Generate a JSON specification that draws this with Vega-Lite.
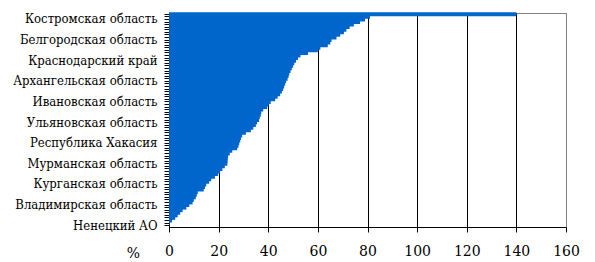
{
  "$schema": "https://vega.github.io/schema/vega-lite/v6.json",
  "width": 397,
  "height": 214,
  "autosize": "none",
  "padding": {"left": 169, "top": 13, "right": 29, "bottom": 35},
  "background": "white",
  "config": {"view": {"stroke": "#808080", "strokeWidth": 1}, "font": "DejaVu Serif"},
  "data": {"values": [
    {"region": "г. Москва", "value": 140},
    {"region": "Тюменская область", "value": 81},
    {"region": "Костромская область", "value": 79},
    {"region": "Ямало-Ненецкий АО", "value": 77},
    {"region": "Ханты-Мансийский АО", "value": 74.5},
    {"region": "г. Санкт-Петербург", "value": 72.8},
    {"region": "Московская область", "value": 71.5},
    {"region": "Республика Татарстан", "value": 70.5},
    {"region": "Самарская область", "value": 69},
    {"region": "Свердловская область", "value": 67.5},
    {"region": "Белгородская область", "value": 65.5},
    {"region": "Липецкая область", "value": 65},
    {"region": "Ленинградская область", "value": 64},
    {"region": "Сахалинская область", "value": 61},
    {"region": "Республика Коми", "value": 60},
    {"region": "Пермский край", "value": 56},
    {"region": "Красноярский край", "value": 53},
    {"region": "Челябинская область", "value": 52},
    {"region": "Краснодарский край", "value": 51.2},
    {"region": "Нижегородская область", "value": 50.5},
    {"region": "Вологодская область", "value": 50},
    {"region": "Республика Башкортостан", "value": 49.5},
    {"region": "Оренбургская область", "value": 49},
    {"region": "Ярославская область", "value": 48.5},
    {"region": "Калужская область", "value": 48.2},
    {"region": "Томская область", "value": 47.8},
    {"region": "Архангельская область", "value": 47.2},
    {"region": "Магаданская область", "value": 46.8},
    {"region": "Воронежская область", "value": 46.4},
    {"region": "Тульская область", "value": 46},
    {"region": "Камчатский край", "value": 45.5},
    {"region": "Ростовская область", "value": 44.8},
    {"region": "Калининградская область", "value": 43.8},
    {"region": "Новосибирская область", "value": 42.8},
    {"region": "Ивановская область", "value": 41},
    {"region": "Иркутская область", "value": 40.2},
    {"region": "Кемеровская область", "value": 39.6},
    {"region": "Хабаровский край", "value": 38},
    {"region": "Рязанская область", "value": 37.2},
    {"region": "Удмуртская Республика", "value": 37},
    {"region": "Омская область", "value": 36.6},
    {"region": "Смоленская область", "value": 36.3},
    {"region": "Ульяновская область", "value": 35.5},
    {"region": "Волгоградская область", "value": 35},
    {"region": "Приморский край", "value": 34},
    {"region": "Тверская область", "value": 33},
    {"region": "Новгородская область", "value": 31},
    {"region": "Саратовская область", "value": 29.5},
    {"region": "Республика Карелия", "value": 29},
    {"region": "Курская область", "value": 28.7},
    {"region": "Республика Хакасия", "value": 28.3},
    {"region": "Республика Саха (Якутия)", "value": 28},
    {"region": "Чукотский АО", "value": 27.5},
    {"region": "Астраханская область", "value": 25.5},
    {"region": "Ставропольский край", "value": 24.5},
    {"region": "Брянская область", "value": 23.8},
    {"region": "Орловская область", "value": 23.7},
    {"region": "Амурская область", "value": 23.6},
    {"region": "Мурманская область", "value": 23.5},
    {"region": "Псковская область", "value": 22.5},
    {"region": "Пензенская область", "value": 21.5},
    {"region": "Тамбовская область", "value": 20.6},
    {"region": "Кировская область", "value": 19.8},
    {"region": "Республика Мордовия", "value": 18.5},
    {"region": "Алтайский край", "value": 17},
    {"region": "Чувашская Республика", "value": 16.2},
    {"region": "Курганская область", "value": 15},
    {"region": "Забайкальский край", "value": 14.5},
    {"region": "Республика Марий Эл", "value": 14},
    {"region": "Республика Бурятия", "value": 11.6},
    {"region": "Республика Адыгея", "value": 11.2},
    {"region": "Еврейская АО", "value": 10.8},
    {"region": "Республика Северная Осетия", "value": 10},
    {"region": "Карачаево-Черкесская Республика", "value": 9.5},
    {"region": "Владимирская область", "value": 8.2},
    {"region": "Кабардино-Балкарская Республика", "value": 7},
    {"region": "Республика Алтай", "value": 5.5},
    {"region": "Республика Калмыкия", "value": 4.5},
    {"region": "Республика Тыва", "value": 3.5},
    {"region": "Республика Дагестан", "value": 2.5},
    {"region": "Чеченская Республика", "value": 1.2},
    {"region": "Республика Ингушетия", "value": 0.3},
    {"region": "Ненецкий АО", "value": 0.1}
  ]},
  "mark": {"type": "bar", "fill": "#0066CC", "height": {"band": 1.5}},
  "encoding": {
    "y": {
      "field": "region",
      "type": "nominal",
      "sort": null,
      "scale": {"paddingInner": 0, "paddingOuter": 0},
      "axis": {
        "title": null,
        "labelExpr": "indexof(['Костромская область','Белгородская область','Краснодарский край','Архангельская область','Ивановская область','Ульяновская область','Республика Хакасия','Мурманская область','Курганская область','Владимирская область','Ненецкий АО'], datum.value) >= 0 ? datum.value : ''",
        "labelFont": "DejaVu Serif Condensed",
        "labelFontSize": 13,
        "labelColor": "#000",
        "labelOverlap": false,
        "labelPadding": 7,
        "tickColor": "#000",
        "tickSize": 5,
        "domainColor": "#000",
        "grid": false
      }
    },
    "x": {
      "field": "value",
      "type": "quantitative",
      "scale": {"domain": [0, 160], "nice": false},
      "axis": {
        "values": [0, 20, 40, 60, 80, 100, 120, 140, 160],
        "grid": true,
        "gridColor": {"condition": {"test": "datum.value == 160", "value": "#808080"}, "value": "#000"},
        "gridOpacity": 1,
        "domainColor": "#000",
        "tickColor": "#000",
        "tickSize": 5,
        "labelFlush": false,
        "labelFont": "DejaVu Serif",
        "labelFontSize": 14,
        "labelColor": "#000",
        "labelPadding": 12,
        "title": "%",
        "titleFont": "DejaVu Serif",
        "titleFontSize": 14,
        "titleFontWeight": "normal",
        "titleColor": "#000",
        "titleX": -36,
        "titleY": 26,
        "titleBaseline": "middle",
        "titleAlign": "center"
      }
    }
  }
}
